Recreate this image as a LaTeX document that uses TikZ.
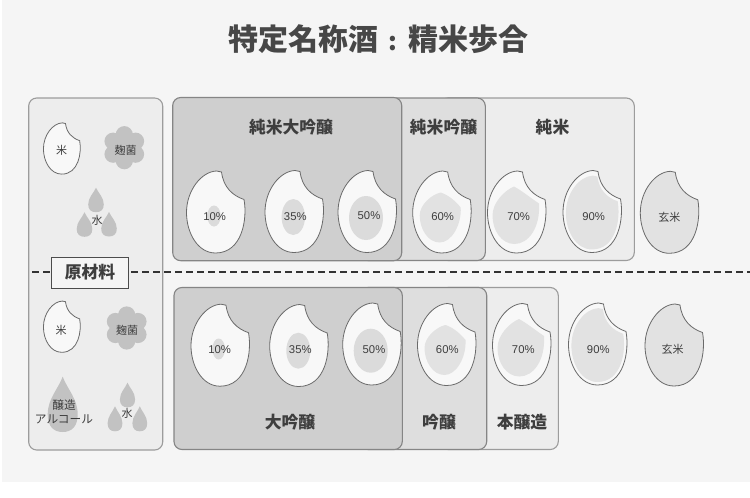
\documentclass[tikz,border=0pt]{standalone}
\usepackage{fontspec}
\setmainfont{Liberation Sans}
\newfontfamily\cjk{Noto Sans CJK JP}
\definecolor{bgc}{HTML}{F5F5F5}
\definecolor{panelc}{HTML}{EDEDED}
\definecolor{midc}{HTML}{DEDEDE}
\definecolor{darkc}{HTML}{CFCFCF}
\definecolor{edgec}{HTML}{9C9C9C}
\definecolor{edgedark}{HTML}{858585}
\definecolor{corec}{HTML}{E2E2E2}
\definecolor{blobc}{HTML}{DBDBDB}
\definecolor{dropc}{HTML}{C2C2C2}
\definecolor{inkc}{HTML}{3E3E3E}
\definecolor{grainink}{HTML}{6A6A6A}
\definecolor{grainw}{HTML}{F8F8F8}
\tikzset{
  x=1pt,y=-1pt,
  panelbox/.style={rounded corners=8pt,draw=edgec,line width=1.1pt},
  grainline/.style={draw=grainink,line width=.8pt},
  coreblob/.style={fill=corec,draw=none},
  droplet/.style={fill=dropc,draw=none},
  head/.style={font=\cjk\bfseries\fontsize{16.8}{18}\selectfont,text=inkc,inner sep=0pt},
  pct/.style={font=\fontsize{11.3}{13}\selectfont,text=inkc,inner sep=0pt},
  small/.style={font=\cjk\fontsize{11}{12}\selectfont,text=inkc,inner sep=0pt},
}
\newcommand\grainpath{(6,-40.5) .. controls (8,-25) and (17,-17) .. (28.5,-13) .. controls (32,6) and (27,40.5) .. (0,40.5) .. controls (-18,40.5) and (-29,20) .. (-29,0) .. controls (-29,-22) and (-14,-41) .. (1,-41.5) -- cycle}
\newcommand\grain[3][grainw]{\draw[grainline,fill=#1,shift={(#2,#3)}] \grainpath;}
\newcommand\grainsmall[2]{\draw[grainline,fill=grainw,shift={(#1,#2)},xscale=.63,yscale=.625] \grainpath;}
\newcommand\blob[4]{\fill[blobc] (#1,#2) ellipse [x radius=#3,y radius=#4];}
\newcommand\coresix[2]{\fill[coreblob,shift={(#1,#2)}] (-1,-20) .. controls (8,-17) and (15,-10) .. (19,-5) .. controls (20,12) and (10,30) .. (-2,30) .. controls (-14,30) and (-22,16) .. (-22,3) .. controls (-22,-8) and (-10,-18) .. (-1,-20) -- cycle;}
\newcommand\coreseven[2]{\fill[coreblob,shift={(#1,#2)}] (-2.5,-26) .. controls (5,-22) and (15,-14) .. (22.5,-9) .. controls (24,15) and (12,31.5) .. (-2,31.5) .. controls (-15,31.5) and (-24,18) .. (-24,3) .. controls (-24,-10) and (-12,-22) .. (-2.5,-26) -- cycle;}
\newcommand\corenine[2]{\fill[coreblob,shift={(#1,#2)},xscale=.9,yscale=.9] \grainpath;}
\newcommand\drop[4]{\fill[droplet] (#1,#2) .. controls ({#1+.3*#3},{#2+.22*#4}) and ({#1+#3},{#2+.4*#4}) .. ({#1+#3},{#2+.68*#4}) .. controls ({#1+#3},{#2+.9*#4}) and ({#1+.6*#3},{#2+#4}) .. (#1,{#2+#4}) .. controls ({#1-.6*#3},{#2+#4}) and ({#1-#3},{#2+.9*#4}) .. ({#1-#3},{#2+.68*#4}) .. controls ({#1-#3},{#2+.4*#4}) and ({#1-.3*#3},{#2+.22*#4}) .. (#1,#2) -- cycle;}
\newcommand\flower[2]{\fill[droplet,shift={(#1,#2)}] (0,0) circle [radius=13] (90:13) circle [radius=8.6] (30:13) circle [radius=8.6] (-30:13) circle [radius=8.6] (-90:13) circle [radius=8.6] (-150:13) circle [radius=8.6] (150:13) circle [radius=8.6];}
\begin{document}
\begin{tikzpicture}
\useasboundingbox (0,0) rectangle (750,498);
\fill[white] (0,0) rectangle (750,498);
\fill[bgc] (2,0) rectangle (750,482);
\node[font=\cjk\bfseries\fontsize{30}{34}\selectfont,text=black!72,inner sep=0pt] (title) at (378,39) {特定名称酒\makebox[30pt][c]{\fontsize{25}{27}\selectfont :}精米歩合};
\node[panelbox,fill=panelc,minimum width=134pt,minimum height=352pt,inner sep=0pt] (rawpanel) at (95.7,274) {};
\draw[panelbox,fill=panelc] (440,98) rectangle (634.3,260.5);
\draw[panelbox,fill=midc,draw=edgedark] (360,98) rectangle (485.3,260.5);
\draw[panelbox,fill=darkc,draw=edgedark] (172.7,97.5) rectangle (401.7,260.7);
\draw[panelbox,fill=panelc] (440,287.5) rectangle (558.3,449.5);
\draw[panelbox,fill=midc,draw=edgedark] (360,287.5) rectangle (486.7,449.5);
\draw[panelbox,fill=darkc,draw=edgedark] (174,287.5) rectangle (402.3,449.5);
\coordinate (dashL) at (32,272);
\coordinate (dashR) at (750,272);
\draw[dash pattern=on 7pt off 4pt,line width=1.4pt,color=black!80] (dashL) -- (dashR);
\node[draw=black!70,fill=bgc,line width=.9pt,minimum width=77pt,minimum height=31pt,inner sep=0pt,font=\cjk\bfseries\fontsize{16.8}{18}\selectfont,text=inkc] (raw) at (90,272.5) {原材料};
\node[head] (hA) at (291,127) {純米大吟醸};
\node[head] (hB) at (443.5,127) {純米吟醸};
\node[head] (hC) at (552.5,127) {純米};
\node[head] (hD) at (290,421.7) {大吟醸};
\node[head] (hE) at (439,421.7) {吟醸};
\node[head] (hF) at (522,421.7) {本醸造};
\grain{215.5}{212.5}\blob{214}{216}{6.7}{10.5}
\grain{294}{212}\blob{293.3}{217}{11.7}{18}
\grain{367}{212}\blob{366}{218}{17}{22}
\grain{441.7}{212.5}\coresix{441.7}{212.5}
\grain{516.5}{212.5}\coreseven{516.5}{212.5}
\grain{592}{212}\corenine{592}{213}
\grain[corec]{669.3}{212.8}
\node[pct] (t10) at (214.7,216.3) {10\%};
\node[pct] (t35) at (295.3,216.7) {35\%};
\node[pct] (t50) at (369,216) {50\%};
\node[pct] (t60) at (442.7,216.7) {60\%};
\node[pct] (t70) at (518.7,216.7) {70\%};
\node[pct] (t90) at (593.7,216.3) {90\%};
\node[small] (tG) at (669.3,217.3) {玄米};
\grain{220}{345.7}\blob{218.7}{349}{6.3}{10.5}
\grain{298.7}{346}\blob{298.3}{350.7}{12}{18}
\grain{371.7}{344.5}\blob{370.7}{350.7}{17}{22}
\grain{446.5}{345}\coresix{446.5}{345}
\grain{521.5}{345}\coreseven{521.5}{345}
\grain{597.5}{344.5}\corenine{597.5}{345.5}
\grain[corec]{674}{345.5}
\node[pct] (b10) at (219.7,349.3) {10\%};
\node[pct] (b35) at (300.3,350) {35\%};
\node[pct] (b50) at (374,349.3) {50\%};
\node[pct] (b60) at (447.3,350) {60\%};
\node[pct] (b70) at (523.3,350) {70\%};
\node[pct] (b90) at (598.3,350) {90\%};
\node[small] (bG) at (672.7,349.7) {玄米};
\grainsmall{61.7}{148.8}
\node[small] (rA) at (61.7,150.7) {米};
\flower{124.3}{147.7}
\node[small] (kA) at (125.7,150) {麹菌};
\drop{96}{187.7}{7.8}{24.5}
\drop{84.5}{212.3}{7.8}{24.5}
\drop{109}{212}{7.8}{24.5}
\node[small] (wA) at (97,220.7) {水};
\grainsmall{61.7}{327}
\node[small] (rB) at (61,330) {米};
\flower{126.7}{328}
\node[small] (kB) at (127,330.7) {麹菌};
\drop{62.7}{376.7}{15}{55.3}
\node[small,font=\cjk\fontsize{11.7}{14}\selectfont,align=center] (al) at (64,412) {醸造\\アルコール};
\drop{127.5}{382.7}{7.6}{24.6}
\drop{115}{406.3}{7.4}{25}
\drop{139.8}{406.3}{7.4}{25}
\node[small] (wB) at (127,413.3) {水};
\end{tikzpicture}
\end{document}
